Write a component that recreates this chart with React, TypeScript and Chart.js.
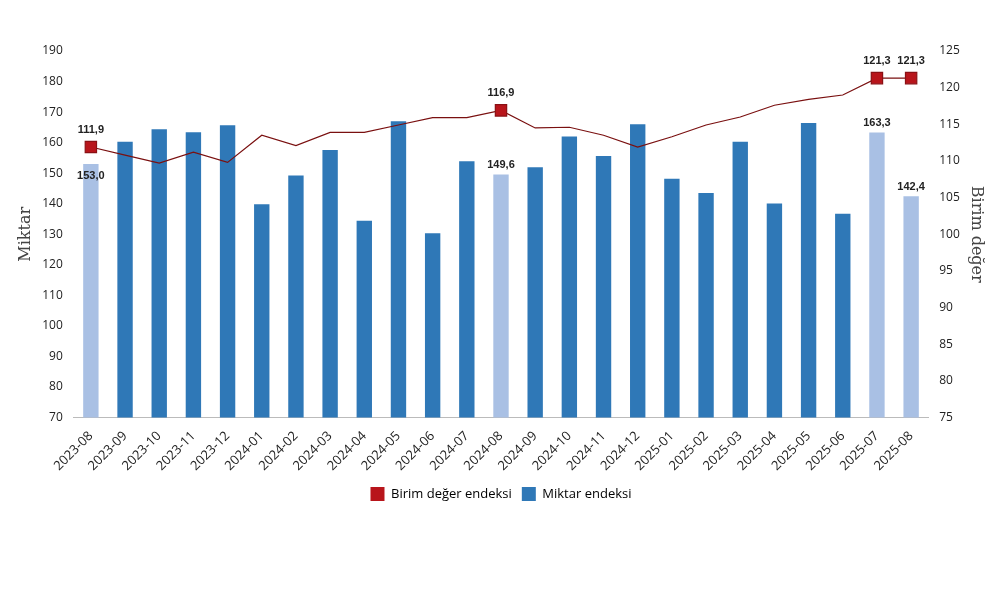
import React, { useEffect, useRef } from "react";
import { Chart, registerables } from "chart.js";
Chart.register(...registerables);

const categories = ["2023-08","2023-09","2023-10","2023-11","2023-12","2024-01","2024-02","2024-03","2024-04","2024-05","2024-06","2024-07","2024-08","2024-09","2024-10","2024-11","2024-12","2025-01","2025-02","2025-03","2025-04","2025-05","2025-06","2025-07","2025-08"];
const miktar = [153.0,160.3,164.4,163.4,165.7,139.8,149.2,157.6,134.4,167.0,130.3,153.9,149.6,151.9,162.0,155.6,166.0,148.2,143.5,160.3,140.1,166.4,136.7,163.3,142.4];
const birim = [111.9,110.8,109.7,111.2,109.8,113.5,112.1,113.9,113.9,114.9,115.9,115.9,116.9,114.5,114.6,113.5,111.9,113.3,114.9,116.0,117.6,118.4,119.0,121.3,121.3];
const highlighted = [0, 12, 23, 24];

const fmt = (v: number) => v.toFixed(1).replace(".", ",");

const labelPlugin = {
  id: "labels",
  afterDatasetsDraw(chart: any) {
    const ctx = chart.ctx;
    ctx.save();
    ctx.font = "bold 11px Arial, 'Liberation Sans', sans-serif";
    ctx.fillStyle = "#222";
    ctx.textAlign = "center";
    const lineMeta = chart.getDatasetMeta(0);
    const barMeta = chart.getDatasetMeta(1);
    highlighted.forEach((i) => {
      const p = lineMeta.data[i];
      ctx.textBaseline = "bottom";
      ctx.fillText(fmt(birim[i]), p.x, p.y - 12);
      const b = barMeta.data[i];
      if (i === 0) {
        ctx.textBaseline = "top";
        ctx.fillText(fmt(miktar[i]), b.x, b.y + 6);
      } else {
        ctx.textBaseline = "bottom";
        ctx.fillText(fmt(miktar[i]), b.x, b.y - 4);
      }
    });
    ctx.restore();
  },
};

export default function App() {
  const ref = useRef<HTMLCanvasElement>(null);
  useEffect(() => {
    const chart = new Chart(ref.current!, {
      type: "bar",
      data: {
        labels: categories,
        datasets: [
          {
            type: "line",
            label: "Birim değer endeksi",
            data: birim,
            yAxisID: "y1",
            borderColor: "#7a1010",
            backgroundColor: "#c0141b",
            borderWidth: 1.2,
            pointStyle: "rect",
            pointRadius: birim.map((_, i) => (highlighted.includes(i) ? 8 : 0)),
            pointBackgroundColor: "#b8151b",
            pointBorderColor: "#8a1014",
            order: 0,
          } as any,
          {
            type: "bar",
            label: "Miktar endeksi",
            data: miktar,
            yAxisID: "y",
            backgroundColor: miktar.map((_, i) => (highlighted.includes(i) ? "#a9c0e4" : "#2f78b7")),
            barPercentage: 0.45,
            categoryPercentage: 1,
            order: 1,
          },
        ],
      },
      options: {
        animation: false,
        responsive: false,
        layout: { padding: { left: 12, right: 10, top: 51, bottom: 82 } },
        plugins: {
          tooltip: { enabled: false },
          legend: {
            position: "bottom",
            labels: {
              boxWidth: 14,
              boxHeight: 14,
              color: "#333",
              font: { size: 13, family: "'Open Sans', Arial, sans-serif" },
              generateLabels: () => [
                { text: "Birim değer endeksi", fillStyle: "#b8151b", strokeStyle: "#b8151b", lineWidth: 0, datasetIndex: 0 } as any,
                { text: "Miktar endeksi", fillStyle: "#2f78b7", strokeStyle: "#2f78b7", lineWidth: 0, datasetIndex: 1 } as any,
              ],
            },
          },
        },
        scales: {
          x: {
            grid: { display: false },
            border: { color: "#bbb" },
            ticks: { maxRotation: 45, minRotation: 45, color: "#222", font: { size: 13, family: "'Open Sans', Arial, sans-serif" } },
          },
          y: {
            min: 70, max: 190,
            ticks: { stepSize: 10, color: "#222", font: { size: 12, family: "'Open Sans', Arial, sans-serif" } },
            grid: { display: false },
            border: { display: false },
            title: { display: true, text: "Miktar", color: "#444", font: { size: 16, family: "'DejaVu Serif', serif" } },
          },
          y1: {
            position: "right",
            min: 75, max: 125,
            ticks: { stepSize: 5, color: "#222", font: { size: 12, family: "'Open Sans', Arial, sans-serif" } },
            grid: { display: false },
            border: { display: false },
            title: { display: true, text: "Birim değer", color: "#444", font: { size: 16, family: "'DejaVu Serif', serif" } },
          },
        },
      },
      plugins: [labelPlugin],
    });
    return () => chart.destroy();
  }, []);
  return (
    <div style={{ position: "fixed", left: 0, top: 0, width: 1000, height: 593, background: "#fff" }}>
      <canvas ref={ref} width={1000} height={593} />
    </div>
  );
}
